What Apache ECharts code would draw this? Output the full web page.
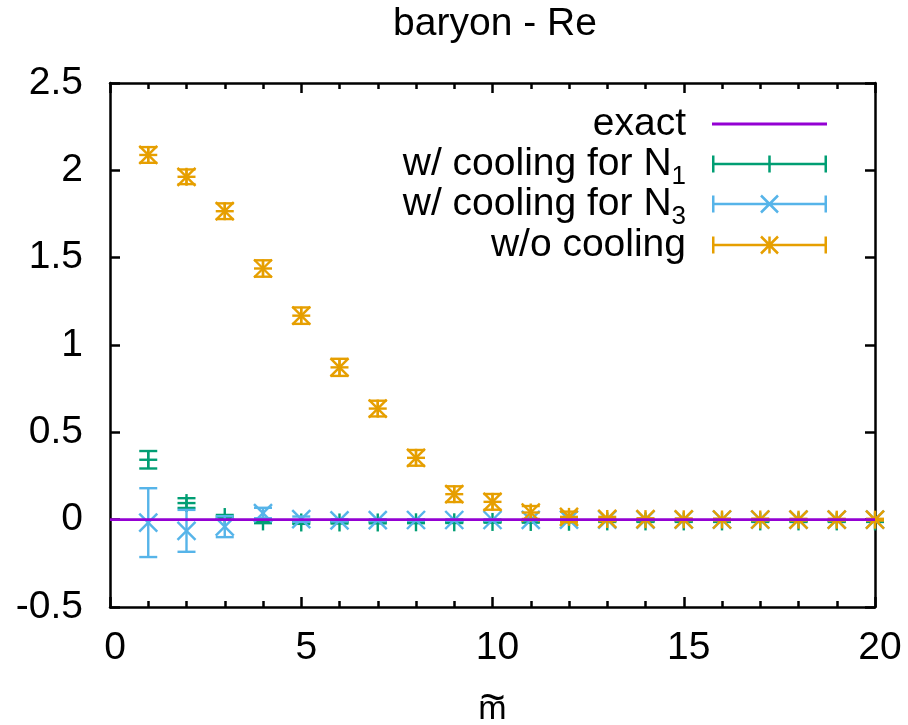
<!DOCTYPE html>
<html><head><meta charset="utf-8">
<script src="https://cdn.jsdelivr.net/npm/echarts@6/dist/echarts.min.js"></script>
<style>html,body{margin:0;padding:0;background:#fff}#c{width:908px;height:725px}</style>
</head><body><div id="c"></div>
<script>
// ---- data ----
const mValues = [1,2,3,4,5,6,7,8,9,10,11,12,13,14,15,16,17,18,19,20];
const exactX = [0,1,2,3,4,5,6,7,8,9,10,11,12,13,14,15,16,17,18,19,20];
const exactY = [0,0,0,0,0,0,0,0,0,0,0,0,0,0,0,0,0,0,0,0,0];
const n1Values = [0.343,0.095,0.015,-0.01,-0.016,-0.016,-0.016,-0.015,-0.015,-0.013,-0.013,-0.012,-0.01,-0.01,-0.01,-0.01,-0.01,-0.01,-0.01,-0.01];
const n1Errors = [0.05,0.028,0.012,0.01,0.008,0.006,0.005,0.005,0.004,0.004,0.004,0.003,0.003,0.003,0.003,0.003,0.003,0.003,0.003,0.003];
const n3Values = [-0.017,-0.064,-0.04,0.038,0.003,-0.004,-0.003,-0.002,-0.002,-0.002,-0.001,0,0,0,0,0,0,0,0,0];
const n3Errors = [0.197,0.12,0.06,0.03,0.015,0.006,0.005,0.004,0.004,0.004,0.003,0.002,0.002,0.002,0.002,0.002,0.002,0.002,0.002,0.002];
const noCoolValues = [2.088,1.963,1.766,1.438,1.168,0.872,0.636,0.354,0.146,0.102,0.041,0.016,0.004,0.003,0.002,0.001,0.001,0,0,0];
const noCoolErrors = [0.045,0.042,0.045,0.047,0.047,0.049,0.045,0.045,0.045,0.045,0.037,0.03,0.012,0.005,0.005,0.005,0.005,0.005,0.005,0.005];
const seriesNames = ['exact','w/ cooling for N1','w/ cooling for N3','w/o cooling'];
const yTickLabels = ['-0.5','0','0.5','1','1.5','2','2.5'];

// ---- style ----
const FONT = 'Liberation Sans';
const C_EXACT = '#9400d3', C_N1 = '#009e73', C_N3 = '#56b4e9', C_NO = '#e69f00';
const LW = 2.4;

function triples(vals, errs) { return mValues.map((m, i) => [m, vals[i], errs[i]]); }

function makeRender(marker, color) {
  return function (params, api) {
    const x = api.value(0), y = api.value(1), e = api.value(2);
    const c = api.coord([x, y]);
    const t = api.coord([x, y + e]);
    const b = api.coord([x, y - e]);
    const cw = 9, m = 9;
    const style = { stroke: color, lineWidth: LW, fill: null };
    const ch = [];
    const seg = (x1, y1, x2, y2) => ch.push({ type: 'line', shape: { x1, y1, x2, y2 }, style });
    seg(c[0], t[1], c[0], b[1]);
    seg(c[0] - cw, t[1], c[0] + cw, t[1]);
    seg(c[0] - cw, b[1], c[0] + cw, b[1]);
    if (marker === 'plus' || marker === 'star') {
      seg(c[0] - m, c[1], c[0] + m, c[1]);
      seg(c[0], c[1] - m, c[0], c[1] + m);
    }
    if (marker === 'cross' || marker === 'star') {
      seg(c[0] - m, c[1] - m, c[0] + m, c[1] + m);
      seg(c[0] - m, c[1] + m, c[0] + m, c[1] - m);
    }
    return { type: 'group', children: ch };
  };
}

// legend icon paths (115 x 20 box)
function quad(x1, y1, x2, y2, w) {
  const dx = x2 - x1, dy = y2 - y1, L = Math.hypot(dx, dy);
  const nx = -dy / L * w / 2, ny = dx / L * w / 2;
  const p = [[x1 + nx, y1 + ny], [x2 + nx, y2 + ny], [x2 - nx, y2 - ny], [x1 - nx, y1 - ny]];
  return 'M' + p.map(q => q[0].toFixed(2) + ',' + q[1].toFixed(2)).join('L') + 'Z';
}
function iconPath(marker) {
  const W = 115, cx = 57.5, cy = 10, w = 2.5;
  let d = quad(0, cy, W, cy, w) + quad(w / 2, 1.5, w / 2, 18.5, w) + quad(W - w / 2, 1.5, W - w / 2, 18.5, w);
  if (marker === 'plus' || marker === 'star') d += quad(cx, 1.5, cx, 18.5, w);
  if (marker === 'cross' || marker === 'star') d += quad(cx - 8.5, cy - 8.5, cx + 8.5, cy + 8.5, w) + quad(cx - 8.5, cy + 8.5, cx + 8.5, cy - 8.5, w);
  return 'path://' + d;
}

const legendIcons = ['path://M0,0H115V2.8H0Z', iconPath('plus'), iconPath('cross'), iconPath('star')];
const legendColors = [C_EXACT, C_N1, C_N3, C_NO];
const legendTops = [104, 144, 184, 225];

function makeLegend(i) {
  return {
    orient: 'vertical', right: 81, top: legendTops[i], padding: 0, itemGap: 0,
    itemWidth: 115, itemHeight: 20, align: 'right', selectedMode: false,
    symbolKeepAspect: true,
    itemStyle: { borderWidth: 0 },
    formatter: function (name) {
      if (name === 'w/ cooling for N1') return 'w/ cooling for N{sub|1}';
      if (name === 'w/ cooling for N3') return 'w/ cooling for N{sub|3}';
      return name;
    },
    textStyle: {
      fontFamily: FONT, fontSize: 39, color: '#000', lineHeight: 40, padding: [0, 21, 0, 0],
      rich: { sub: { fontFamily: FONT, fontSize: 26, lineHeight: 7, verticalAlign: 'top', padding: [20, 0, 0, 0], color: '#000' } }
    },
    data: [{ name: seriesNames[i], icon: legendIcons[i], itemStyle: { color: legendColors[i], borderWidth: 0 } }]
  };
}

const chart = echarts.init(document.getElementById('c'), null, { renderer: 'canvas' });
const axisLineStyle = { color: '#000', width: 2.5 };
const option = {
  backgroundColor: '#fff',
  animation: false,
  textStyle: { fontFamily: FONT },
  title: {
    text: 'baryon - Re', left: 490, top: 0, textAlign: 'center',
    textStyle: { fontFamily: FONT, fontSize: 39, fontWeight: 'normal', color: '#000' }
  },
  grid: { left: 110, right: 33, top: 83, bottom: 118, show: false, containLabel: false, outerBoundsMode: 'none' },
  legend: [makeLegend(0), makeLegend(1), makeLegend(2), makeLegend(3)],
  xAxis: [
    {
      type: 'value', position: 'bottom', min: 0, max: 20, interval: 5,
      name: '{t|~}\n{m|m}', nameLocation: 'middle', nameGap: 90,
      nameTextStyle: { fontFamily: FONT, color: '#000',
        rich: { t: { fontFamily: FONT, fontSize: 44, lineHeight: 6, color: '#000' },
                m: { fontFamily: FONT, fontSize: 34, lineHeight: 14, color: '#000' } } },
      axisLine: { show: true, onZero: false, lineStyle: axisLineStyle },
      axisTick: { show: true, inside: true, length: 10, lineStyle: axisLineStyle },
      minorTick: { show: true, splitNumber: 5, length: 6, lineStyle: { color: '#000', width: 2.5 } },
      axisLabel: { show: true, margin: 22, fontFamily: FONT, fontSize: 39, color: '#000', padding: [0, 0, 0, 10] },
      splitLine: { show: false }
    },
    {
      type: 'value', position: 'top', min: 0, max: 20, interval: 5,
      axisLine: { show: true, onZero: false, lineStyle: axisLineStyle },
      axisTick: { show: true, inside: true, length: 10, lineStyle: axisLineStyle },
      minorTick: { show: true, splitNumber: 5, length: 6, lineStyle: { color: '#000', width: 2.5 } },
      axisLabel: { show: false }, splitLine: { show: false }
    }
  ],
  yAxis: [
    {
      type: 'value', position: 'left', min: -0.5, max: 2.5, interval: 0.5,
      axisLine: { show: true, onZero: false, lineStyle: axisLineStyle },
      axisTick: { show: true, inside: true, length: 10, lineStyle: axisLineStyle },
      axisLabel: { show: true, margin: 27, fontFamily: FONT, fontSize: 39, color: '#000',
        formatter: function (v) { const i = Math.round((v + 0.5) / 0.5); return yTickLabels[i]; } },
      splitLine: { show: false }
    },
    {
      type: 'value', position: 'right', min: -0.5, max: 2.5, interval: 0.5,
      axisLine: { show: true, onZero: false, lineStyle: axisLineStyle },
      axisTick: { show: true, inside: true, length: 10, lineStyle: axisLineStyle },
      axisLabel: { show: false }, splitLine: { show: false }
    }
  ],
  series: [
    {
      name: seriesNames[0], type: 'line', xAxisIndex: 0, yAxisIndex: 0,
      data: exactX.map((x, i) => [x, exactY[i]]), symbol: 'none', silent: true,
      lineStyle: { color: C_EXACT, width: 2.8 }, itemStyle: { color: C_EXACT }
    },
    {
      name: seriesNames[1], type: 'custom', xAxisIndex: 0, yAxisIndex: 0, silent: true,
      encode: { x: 0, y: 1 }, itemStyle: { color: C_N1 },
      renderItem: makeRender('plus', C_N1), data: triples(n1Values, n1Errors)
    },
    {
      name: seriesNames[2], type: 'custom', xAxisIndex: 0, yAxisIndex: 0, silent: true,
      encode: { x: 0, y: 1 }, itemStyle: { color: C_N3 },
      renderItem: makeRender('cross', C_N3), data: triples(n3Values, n3Errors)
    },
    {
      name: seriesNames[3], type: 'custom', xAxisIndex: 0, yAxisIndex: 0, silent: true,
      encode: { x: 0, y: 1 }, itemStyle: { color: C_NO },
      renderItem: makeRender('star', C_NO), data: triples(noCoolValues, noCoolErrors)
    }
  ]
};
chart.setOption(option);
</script></body></html>
